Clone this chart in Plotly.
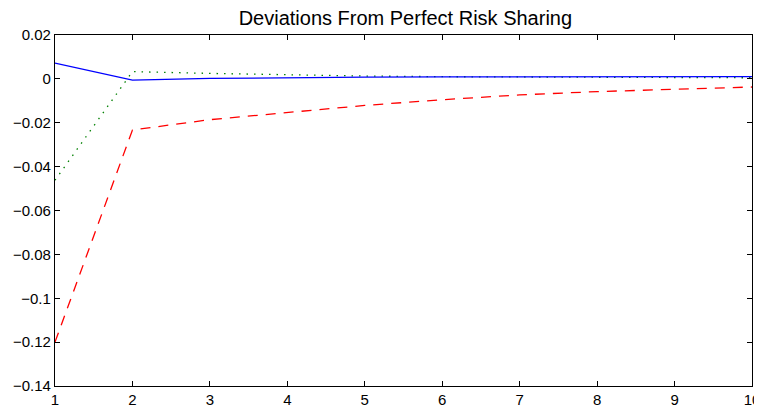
import plotly.graph_objects as go

periods = [1, 2, 3, 4, 5, 6, 7, 8, 9, 10]
blue_solid = [0.0072, -0.0006, 0.0002, 0.0006, 0.0008, 0.0009, 0.0010, 0.0010, 0.0010, 0.0010]
green_dotted = [-0.0462, 0.0033, 0.0025, 0.0018, 0.0013, 0.0010, 0.0008, 0.0007, 0.0006, 0.0005]
red_dashed = [-0.1200, -0.0233, -0.0186, -0.0153, -0.0121, -0.0095, -0.0073, -0.0058, -0.0046, -0.0037]
y_ticks = [0.02, 0, -0.02, -0.04, -0.06, -0.08, -0.1, -0.12, -0.14]

fig = go.Figure()
fig.add_trace(go.Scatter(x=periods, y=green_dotted, mode="lines",
                         line=dict(color="rgb(0,128,0)", width=1.3, dash="1.5px,6px"),
                         showlegend=False))
fig.add_trace(go.Scatter(x=periods, y=red_dashed, mode="lines",
                         line=dict(color="rgb(255,0,0)", width=1.3, dash="10px,8px"),
                         showlegend=False))
fig.add_trace(go.Scatter(x=periods, y=blue_solid, mode="lines",
                         line=dict(color="rgb(0,0,255)", width=1.3),
                         showlegend=False))

font = "Liberation Sans, Arial, Helvetica, sans-serif"
# page body adds ~8px offset; figure sized to fit the 762x408 window
fig.update_layout(
    width=754, height=400,
    margin=dict(l=47, r=10, t=27, b=22, autoexpand=False),
    paper_bgcolor="white", plot_bgcolor="white",
    title=dict(text="Deviations From Perfect Risk Sharing", x=0.527, xanchor="center",
               y=1 - 10 / 400, yref="container", yanchor="middle",
               font=dict(family=font, size=20, color="black")),
    font=dict(family=font, size=15, color="black"),
)
fig.update_xaxes(range=[1, 10], tickvals=periods, ticks="inside", ticklen=5,
                 tickcolor="black", showline=True, linecolor="black", linewidth=1.3,
                 mirror="ticks", showgrid=False, zeroline=False, automargin=False,
                 tickfont=dict(family=font, size=15, color="black"))
fig.update_yaxes(range=[-0.14, 0.02], tickvals=y_ticks, ticks="inside", ticklen=5,
                 tickcolor="black", showline=True, linecolor="black", linewidth=1.3,
                 mirror="ticks", showgrid=False, zeroline=False, automargin=False,
                 tickfont=dict(family=font, size=15, color="black"))

fig.write_html("out.html")
